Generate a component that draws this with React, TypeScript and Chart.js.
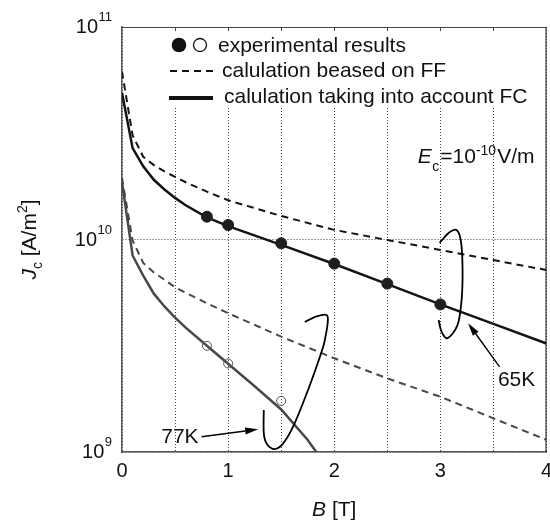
import React, { useEffect, useRef } from 'react';
import { Chart, registerables } from 'chart.js';

Chart.register(...registerables);

// ---------- data ----------
const B_CALC_65K = [0, 0.1, 0.2, 0.3, 0.4, 0.5, 0.6, 0.8, 1.0, 1.5, 2.0, 2.5, 3.0, 3.5, 4.0];
const JC_FC_65K = [4.9e10, 2.69e10, 2.21e10, 1.91e10, 1.72e10, 1.57e10, 1.45e10, 1.27e10, 1.156e10, 9.44e9, 7.67e9, 6.17e9, 4.95e9, 4.01e9, 3.24e9];
const JC_FF_65K = [6.17e10, 3.09e10, 2.45e10, 2.24e10, 2.09e10, 1.97e10, 1.86e10, 1.68e10, 1.53e10, 1.29e10, 1.11e10, 9.95e9, 8.93e9, 8.0e9, 7.18e9];

const B_CALC_77K_FC = [0, 0.1, 0.2, 0.3, 0.4, 0.5, 0.6, 0.8, 1.0, 1.25, 1.5, 1.75, 2.0];
const JC_FC_77K = [1.86e10, 8.41e9, 6.76e9, 5.56e9, 4.84e9, 4.29e9, 3.85e9, 3.16e9, 2.6e9, 2.04e9, 1.585e9, 1.14e9, 7.6e8];
const B_CALC_77K_FF = [0, 0.1, 0.2, 0.3, 0.4, 0.5, 0.6, 0.8, 1.0, 1.5, 2.0, 2.5, 3.0, 3.5, 4.0];
const JC_FF_77K = [1.95e10, 9.89e9, 7.76e9, 7.0e9, 6.46e9, 5.96e9, 5.62e9, 5.01e9, 4.5e9, 3.49e9, 2.76e9, 2.22e9, 1.82e9, 1.44e9, 1.14e9];

const B_EXP_65K = [0.8, 1.0, 1.5, 2.0, 2.5, 3.0];
const JC_EXP_65K = [1.28e10, 1.17e10, 9.6e9, 7.7e9, 6.2e9, 4.95e9];
const B_EXP_77K = [0.8, 1.0, 1.5];
const JC_EXP_77K = [3.16e9, 2.61e9, 1.74e9];

const X_TICK_VALUES = [0, 1, 2, 3, 4];
const X_TICK_LABELS = ['0', '1', '2', '3', '4'];
const Y_TICK_EXPONENTS = [9, 10, 11];
const LEGEND_LABELS = ['experimental results', 'calulation beased on FF', 'calulation taking into account FC'];
const TEMP_LABELS = ['65K', '77K'];

// annotation geometry in data coordinates: [B, log10(Jc)]
const LOOP_65K = [[2.993, 9.984], [3.078, 10.031], [3.153, 10.045], [3.195, 9.988], [3.209, 9.856], [3.2, 9.715], [3.162, 9.598], [3.068, 9.536], [3.012, 9.565], [2.984, 9.621]];
const LOOP_77K = [[1.722, 9.612], [1.835, 9.638], [1.927, 9.645], [1.939, 9.612], [1.911, 9.527], [1.88, 9.471], [1.753, 9.292], [1.612, 9.119], [1.515, 9.038], [1.44, 9.014], [1.365, 9.038], [1.336, 9.089], [1.336, 9.198]];
const ARROW_65K = [[3.558, 9.401], [3.261, 9.606]];
const ARROW_77K = [[0.75, 9.072], [1.283, 9.107]];
const LABEL_65K_POS = [3.718, 9.339];
const LABEL_77K_POS = [0.546, 9.071];
const EC_POS = [2.787, 10.36];

const FONT = '"Liberation Sans", Arial, Helvetica, sans-serif';
const C65 = '#141414';
const C77 = '#484848';

const zip = (xs: number[], ys: number[]) => xs.map((x, i) => ({ x, y: ys[i] }));

function smoothPath(ctx: CanvasRenderingContext2D, pts: number[][]) {
  ctx.moveTo(pts[0][0], pts[0][1]);
  for (let i = 0; i < pts.length - 1; i++) {
    const p0 = pts[i - 1] || pts[i];
    const p1 = pts[i];
    const p2 = pts[i + 1];
    const p3 = pts[i + 2] || p2;
    ctx.bezierCurveTo(
      p1[0] + (p2[0] - p0[0]) / 6, p1[1] + (p2[1] - p0[1]) / 6,
      p2[0] - (p3[0] - p1[0]) / 6, p2[1] - (p3[1] - p1[1]) / 6,
      p2[0], p2[1]
    );
  }
}

function arrow(ctx: CanvasRenderingContext2D, x1: number, y1: number, x2: number, y2: number) {
  const ang = Math.atan2(y2 - y1, x2 - x1);
  const hl = 13, hw = 3.5;
  const bx = x2 - hl * Math.cos(ang), by = y2 - hl * Math.sin(ang);
  ctx.beginPath();
  ctx.moveTo(x1, y1);
  ctx.lineTo(bx, by);
  ctx.lineWidth = 1.4;
  ctx.stroke();
  ctx.beginPath();
  ctx.moveTo(x2, y2);
  ctx.lineTo(bx + hw * Math.sin(ang), by - hw * Math.cos(ang));
  ctx.lineTo(bx - hw * Math.sin(ang), by + hw * Math.cos(ang));
  ctx.closePath();
  ctx.fill();
}

const decorPlugin = {
  id: 'decor',
  afterDatasetsDraw(chart: any) {
    const { ctx, chartArea: ca, scales } = chart;
    const xs = scales.x, ys = scales.y;
    const px = (p: number[]) => [xs.getPixelForValue(p[0]), ys.getPixelForValue(Math.pow(10, p[1]))];
    ctx.save();

    // legend box (white, hides grid)
    ctx.fillStyle = '#fff';
    ctx.fillRect(ca.left + 40, ca.top + 1, ca.right - ca.left - 41, 80);

    // legend content
    ctx.textBaseline = 'middle';
    ctx.textAlign = 'left';
    ctx.font = `21px ${FONT}`;
    ctx.fillStyle = '#111';
    let y = ca.top + 18;
    ctx.beginPath();
    ctx.arc(ca.left + 57, y, 7.3, 0, Math.PI * 2);
    ctx.fill();
    ctx.beginPath();
    ctx.arc(ca.left + 78, y, 6.5, 0, Math.PI * 2);
    ctx.strokeStyle = '#111';
    ctx.lineWidth = 1.3;
    ctx.stroke();
    ctx.fillText(LEGEND_LABELS[0], ca.left + 96, y + 1);
    y = ca.top + 44;
    ctx.beginPath();
    ctx.setLineDash([7, 5]);
    ctx.lineWidth = 2;
    ctx.moveTo(ca.left + 48, y);
    ctx.lineTo(ca.left + 96, y);
    ctx.stroke();
    ctx.setLineDash([]);
    ctx.fillText(LEGEND_LABELS[1], ca.left + 100, y);
    y = ca.top + 71;
    ctx.beginPath();
    ctx.lineWidth = 4;
    ctx.moveTo(ca.left + 47, y);
    ctx.lineTo(ca.left + 91, y);
    ctx.stroke();
    ctx.fillText(LEGEND_LABELS[2], ca.left + 102, y - 1);

    // top & right borders, top ticks
    ctx.strokeStyle = '#444';
    ctx.lineWidth = 1;
    ctx.beginPath();
    ctx.moveTo(ca.left, ca.top + 0.5);
    ctx.lineTo(ca.right, ca.top + 0.5);
    ctx.stroke();
    ctx.strokeStyle = '#111';
    ctx.beginPath();
    ctx.moveTo(ca.right - 0.5, ca.top);
    ctx.lineTo(ca.right - 0.5, ca.bottom);
    ctx.stroke();
    ctx.strokeStyle = '#444';
    for (let v = 0.5; v < 4; v += 0.5) {
      const x = Math.round(xs.getPixelForValue(v)) + 0.5;
      ctx.beginPath();
      ctx.moveTo(x, ca.top);
      ctx.lineTo(x, ca.top + 4);
      ctx.stroke();
    }

    // loops
    ctx.strokeStyle = '#000';
    ctx.lineWidth = 1.8;
    ctx.beginPath();
    smoothPath(ctx, LOOP_65K.map(px));
    ctx.stroke();
    ctx.beginPath();
    smoothPath(ctx, LOOP_77K.map(px));
    ctx.stroke();

    // arrows
    ctx.fillStyle = '#000';
    let a = ARROW_65K.map(px);
    arrow(ctx, a[0][0], a[0][1], a[1][0], a[1][1]);
    a = ARROW_77K.map(px);
    arrow(ctx, a[0][0], a[0][1], a[1][0], a[1][1]);

    // temperature labels
    ctx.font = `21px ${FONT}`;
    ctx.fillStyle = '#111';
    ctx.textAlign = 'center';
    ctx.textBaseline = 'middle';
    let p = px(LABEL_65K_POS);
    ctx.fillText(TEMP_LABELS[0], p[0], p[1]);
    p = px(LABEL_77K_POS);
    ctx.fillText(TEMP_LABELS[1], p[0], p[1]);

    // Ec label
    p = px(EC_POS);
    ctx.textAlign = 'left';
    ctx.textBaseline = 'alphabetic';
    let x = p[0];
    const base = p[1];
    ctx.font = `italic 21px ${FONT}`;
    ctx.fillText('E', x, base);
    x += ctx.measureText('E').width + 0.5;
    ctx.font = `14px ${FONT}`;
    ctx.fillText('c', x, base + 8);
    x += ctx.measureText('c').width + 1;
    ctx.font = `21px ${FONT}`;
    ctx.fillText('=10', x, base);
    x += ctx.measureText('=10').width;
    ctx.font = `14px ${FONT}`;
    ctx.fillText('-10', x, base - 8);
    x += ctx.measureText('-10').width + 1;
    ctx.font = `21px ${FONT}`;
    ctx.fillText('V/m', x, base);

    ctx.restore();
  },
  afterDraw(chart: any) {
    const { ctx, chartArea: ca, scales } = chart;
    const xs = scales.x, ys = scales.y;
    ctx.save();
    ctx.fillStyle = '#111';
    ctx.textBaseline = 'alphabetic';
    // x tick labels
    ctx.font = `20px ${FONT}`;
    ctx.textAlign = 'center';
    X_TICK_VALUES.forEach((v, i) => {
      ctx.fillText(X_TICK_LABELS[i], xs.getPixelForValue(v), ca.bottom + 25);
    });
    // y tick labels 10^n
    for (const e of Y_TICK_EXPONENTS) {
      const yy = ys.getPixelForValue(Math.pow(10, e));
      const right = ca.left - 10;
      ctx.font = `13px ${FONT}`;
      ctx.textAlign = 'right';
      const sup = String(e);
      const sw = ctx.measureText(sup).width;
      ctx.fillText(sup, right, yy - 6);
      ctx.font = `20px ${FONT}`;
      ctx.fillText('10', right - sw - 0.5, yy + 6);
    }
    // x title: B [T]
    ctx.textAlign = 'left';
    ctx.font = `italic 21px ${FONT}`;
    const bw = ctx.measureText('B').width;
    ctx.font = `21px ${FONT}`;
    const tw = ctx.measureText(' [T]').width;
    const cx = (ca.left + ca.right) / 2;
    let x = cx - (bw + tw) / 2;
    ctx.font = `italic 21px ${FONT}`;
    ctx.fillText('B', x, 516);
    ctx.font = `21px ${FONT}`;
    ctx.fillText(' [T]', x + bw, 516);

    // y title: Jc [A/m2]
    ctx.translate(36, (ca.top + ca.bottom) / 2);
    ctx.rotate(-Math.PI / 2);
    const parts: [string, string, number][] = [
      ['J', `italic 21px ${FONT}`, 0],
      ['c', `14px ${FONT}`, 6],
      [' [A/m', `21px ${FONT}`, 0],
      ['2', `14px ${FONT}`, -9],
      [']', `21px ${FONT}`, 0],
    ];
    let total = 0;
    for (const [t, f] of parts) { ctx.font = f; total += ctx.measureText(t).width; }
    x = -total / 2;
    for (const [t, f, dy] of parts) {
      ctx.font = f;
      ctx.fillText(t, x, dy);
      x += ctx.measureText(t).width;
    }
    ctx.restore();
  },
};

const isDecade = (v: number) => {
  const l = Math.log10(v);
  return Math.abs(l - Math.round(l)) < 1e-6;
};

export default function App() {
  const ref = useRef<HTMLCanvasElement | null>(null);
  useEffect(() => {
    if (!ref.current) return;
    const chart = new Chart(ref.current, {
      type: 'line',
      data: {
        datasets: [
          { label: `${TEMP_LABELS[0]} ${LEGEND_LABELS[0]}`, data: zip(B_EXP_65K, JC_EXP_65K), showLine: false, pointRadius: 5.5, pointBackgroundColor: '#1e1e1e', pointBorderColor: '#1e1e1e', pointBorderWidth: 1, order: 0 },
          { label: `${TEMP_LABELS[1]} ${LEGEND_LABELS[0]}`, data: zip(B_EXP_77K, JC_EXP_77K), showLine: false, pointRadius: 4.5, pointBackgroundColor: 'rgba(0,0,0,0)', pointBorderColor: '#555', pointBorderWidth: 1, order: 0 },
          { label: `${TEMP_LABELS[0]} ${LEGEND_LABELS[2]}`, data: zip(B_CALC_65K, JC_FC_65K), borderColor: C65, borderWidth: 2.5, pointRadius: 0, tension: 0, order: 1 },
          { label: `${TEMP_LABELS[0]} ${LEGEND_LABELS[1]}`, data: zip(B_CALC_65K, JC_FF_65K), borderColor: C65, borderWidth: 2, borderDash: [7, 5], pointRadius: 0, tension: 0, order: 1 },
          { label: `${TEMP_LABELS[1]} ${LEGEND_LABELS[2]}`, data: zip(B_CALC_77K_FC, JC_FC_77K), borderColor: C77, borderWidth: 2.5, pointRadius: 0, tension: 0, order: 1 },
          { label: `${TEMP_LABELS[1]} ${LEGEND_LABELS[1]}`, data: zip(B_CALC_77K_FF, JC_FF_77K), borderColor: C77, borderWidth: 2, borderDash: [7, 5], pointRadius: 0, tension: 0, order: 1 },
        ],
      },
      options: {
        animation: false,
        responsive: false,
        layout: { padding: { top: 27, right: 3, left: 0, bottom: 0 } },
        plugins: { legend: { display: false }, tooltip: { enabled: false } },
        scales: {
          x: {
            type: 'linear', min: 0, max: 4,
            ticks: { stepSize: 0.5, display: false },
            grid: { color: '#444', lineWidth: 1, drawTicks: false },
            border: { display: true, color: '#555', width: 1.5, dash: [1, 2] },
            afterFit: (s: any) => { s.height = 68; s.paddingLeft = 0; s.paddingRight = 0; },
          },
          y: {
            type: 'logarithmic', min: 1e9, max: 1e11,
            ticks: { display: false },
            grid: { color: (c: any) => (c.tick && isDecade(c.tick.value) ? '#444' : 'rgba(0,0,0,0)'), lineWidth: 1, drawTicks: false },
            border: { display: true, color: '#555', width: 1.5, dash: [1, 2] },
            afterFit: (s: any) => { s.width = 122; s.paddingTop = 0; s.paddingBottom = 0; },
          },
        },
      } as any,
      plugins: [decorPlugin],
    });
    return () => chart.destroy();
  }, []);
  return (
    <div style={{ position: 'fixed', left: 0, top: 0, width: 550, height: 520, background: '#fff', overflow: 'hidden' }}>
      <canvas ref={ref} width={553} height={520} style={{ display: 'block' }} />
    </div>
  );
}
